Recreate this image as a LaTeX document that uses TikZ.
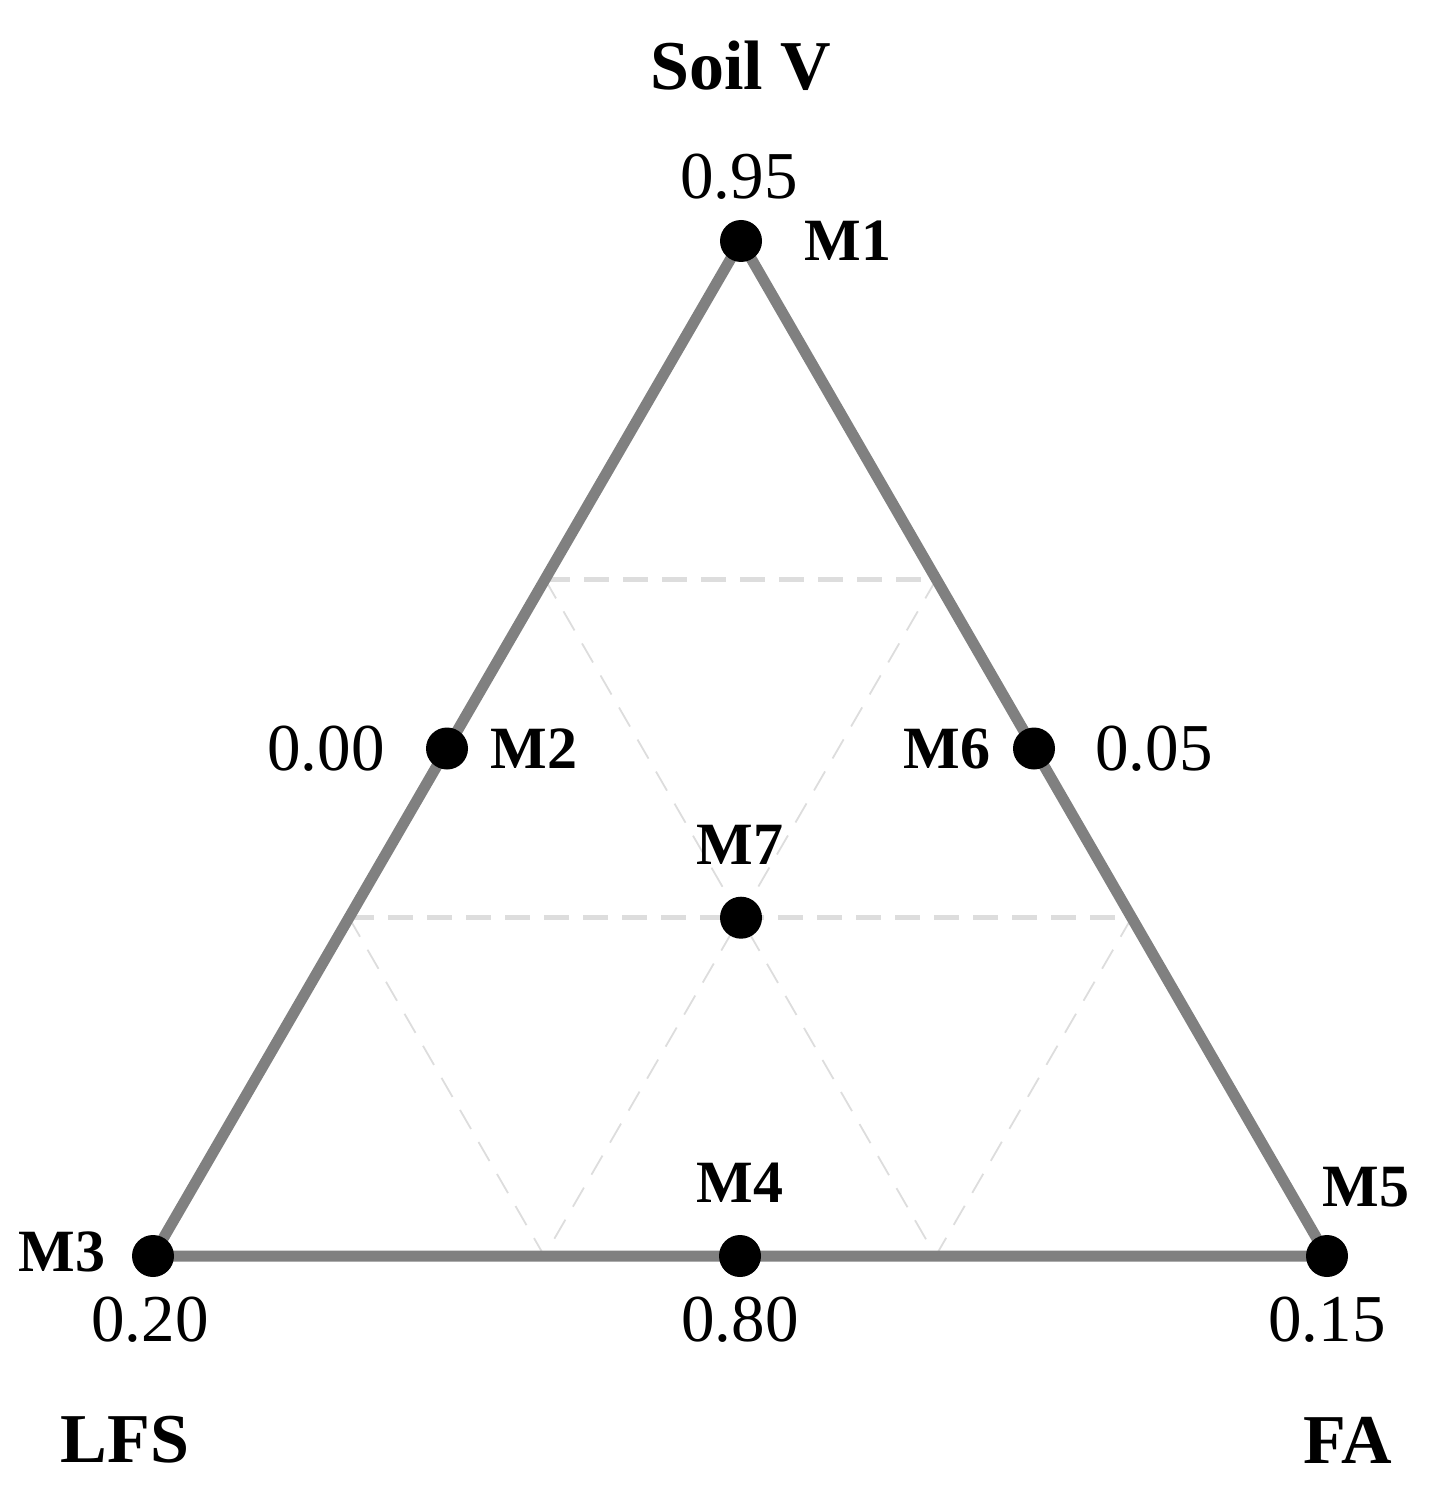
\documentclass[tikz,border=0pt]{standalone}
\usepackage{fontspec}
\setmainfont{Liberation Serif}
\usetikzlibrary{calc}
\definecolor{edgegray}{HTML}{808080}
\definecolor{gridgray}{HTML}{DDDDDD}
\begin{document}
\begin{tikzpicture}[x=1pt,y=-1pt,
  vdot/.style={circle,fill=black,inner sep=0pt,minimum size=42pt},
  edgeline/.style={draw=edgegray,line width=11pt},
  gridh/.style={draw=gridgray,line width=4.5pt,dash pattern=on 25pt off 14pt},
  gridd/.style={draw=gridgray,line width=1.8pt,dash pattern=on 22pt off 15pt},
  numlbl/.style={inner sep=0pt,font=\fontsize{67}{80}\selectfont},
  mlbl/.style={inner sep=0pt,font=\fontsize{60}{72}\selectfont\bfseries},
  axlbl/.style={inner sep=0pt,font=\fontsize{70}{84}\selectfont\bfseries}]
\useasboundingbox (0,0) rectangle (1448,1511);
% vertices and grid points
\coordinate (A) at (741,241);
\coordinate (B) at (153,1256);
\coordinate (C) at (1327,1256);
\coordinate (P1) at ($(A)!1/3!(B)$);
\coordinate (P2) at ($(A)!2/3!(B)$);
\coordinate (Q1) at ($(A)!1/3!(C)$);
\coordinate (Q2) at ($(A)!2/3!(C)$);
\coordinate (R1) at ($(B)!1/3!(C)$);
\coordinate (R2) at ($(B)!2/3!(C)$);
% grid
\draw[gridh] (P1) -- (Q1);
\draw[gridh] (P2) -- (Q2);
\draw[gridd] (P1) -- (R2);
\draw[gridd] (P2) -- (R1);
\draw[gridd] (Q1) -- (R1);
\draw[gridd] (Q2) -- (R2);
% triangle
\draw[edgeline,line join=miter] (A) -- (B) -- (C) -- cycle;
% points
\node[vdot] (M1) at (A) {};
\node[vdot] (M3) at (B) {};
\node[vdot] (M5) at (C) {};
\node[vdot] (M2) at ($(A)!0.5!(B)$) {};
\node[vdot] (M6) at ($(A)!0.5!(C)$) {};
\node[vdot] (M4) at ($(B)!0.5!(C)$) {};
\node[vdot] (M7) at (741,917.7) {};
% labels
\node[axlbl] (tSoil) at (741,66) {Soil V};
\node[axlbl] (tLFS) at (125,1440) {LFS};
\node[axlbl] (tFA) at (1348,1440) {FA};
\node[numlbl] (n095) at (739,177) {0.95};
\node[numlbl] (n000) at (326,749) {0.00};
\node[numlbl] (n005) at (1154,749) {0.05};
\node[numlbl] (n020) at (150,1320) {0.20};
\node[numlbl] (n080) at (740,1320) {0.80};
\node[numlbl] (n015) at (1327,1320) {0.15};
\node[mlbl] (l1) at (848,241) {M1};
\node[mlbl] (l2) at (534,749) {M2};
\node[mlbl] (l6) at (947,749) {M6};
\node[mlbl] (l7) at (740,845) {M7};
\node[mlbl] (l4) at (740,1183) {M4};
\node[mlbl] (l5) at (1366,1187) {M5};
\node[mlbl] (l3) at (62,1252) {M3};
\end{tikzpicture}
\end{document}
